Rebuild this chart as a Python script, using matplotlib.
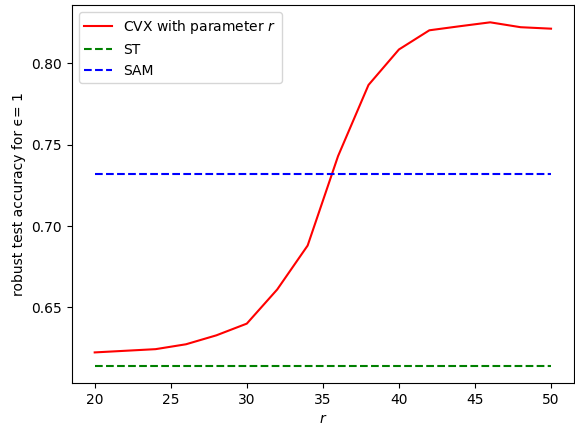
import matplotlib
matplotlib.use("Agg")
import matplotlib.pyplot as plt
import numpy as np

r_values = [20, 22, 24, 26, 28, 30, 32, 34, 36, 38, 40, 42, 44, 46, 48, 50]
cvx_acc = [0.6223, 0.6233, 0.6243, 0.6273, 0.6328, 0.6400, 0.6610, 0.6880,
           0.7430, 0.7867, 0.8085, 0.8203, 0.8228, 0.8252, 0.8222, 0.8213]
st_acc = 0.6140
sam_acc = 0.7320

fig = plt.figure(figsize=(5.75, 4.29), dpi=100)
ax = fig.add_axes([0.125, 0.107, 0.873, 0.881])
ax.plot(r_values, cvx_acc, color='red', label='CVX with parameter $r$')
ax.plot(r_values, [st_acc] * len(r_values), '--', color='green', label='ST')
ax.plot(r_values, [sam_acc] * len(r_values), '--', color='blue', label='SAM')
ax.set_xlabel('$r$')
ax.set_ylabel('robust test accuracy for \u03f5= 1')
ax.set_yticks([0.65, 0.70, 0.75, 0.80])
ax.legend(loc='upper left')
fig.savefig('out.png', dpi=100)
